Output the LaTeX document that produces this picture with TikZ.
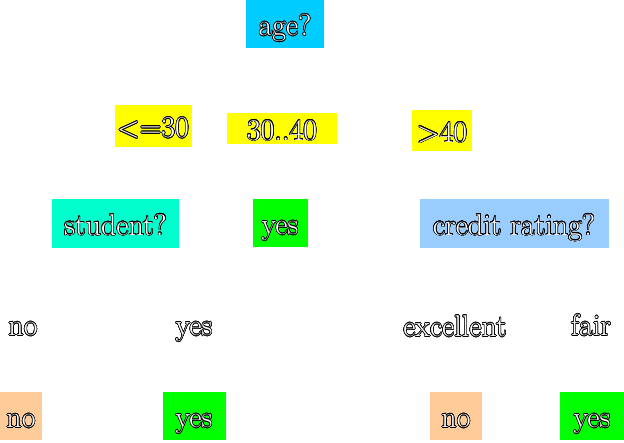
\documentclass[tikz,border=0pt]{standalone}
\usepackage{xcolor}
\usepackage{contour}
\contourlength{0.55pt}
\contournumber{24}

\definecolor{ageblue}{HTML}{00CCFF}
\definecolor{rangeyellow}{HTML}{FFFF00}
\definecolor{studentaqua}{HTML}{00FFCC}
\definecolor{leafgreen}{HTML}{00FF00}
\definecolor{creditblue}{HTML}{99CCFF}
\definecolor{leafpeach}{HTML}{FFCC99}

\newcommand{\olt}[1]{\contour{black}{#1}}

\tikzset{
  txt/.style={text=white, inner sep=0pt, text height=23pt, text depth=0pt,
    font=\fontsize{30}{34}\selectfont},
  box/.style={txt, minimum width=#1},
  box/.default=60,
}

\begin{document}
\begin{tikzpicture}[x=1pt, y=-1pt]
  \useasboundingbox (0,0) rectangle (624,442);

  \node[box=78, minimum height=48, fill=ageblue] (age) at (285,24) {\olt{age?}};

  \node[box=77, minimum height=42, fill=rangeyellow] (le30) at (153,126) {\olt{<=30}};
  \node[box=110, minimum height=31, fill=rangeyellow] (mid) at (282,128.5) {\olt{30..40}};
  \node[box=60, minimum height=41, fill=rangeyellow] (gt40) at (442,130.5) {\olt{>40}};

  \node[box=127, minimum height=49, fill=studentaqua] (student) at (115.5,223.5) {\olt{student?}};
  \node[box=55, minimum height=48, fill=leafgreen] (yesA) at (280,223) {\olt{yes}};
  \node[box=189, minimum height=49, fill=creditblue] (credit) at (514,223.5) {\olt{credit rating?}};

  \node[txt] (noLbl) at (23,324) {\olt{no}};
  \node[txt] (yesLbl) at (194,324) {\olt{yes}};
  \node[txt] (excLbl) at (455,325) {\olt{excellent}};
  \node[txt] (fairLbl) at (591,324) {\olt{fair}};

  \node[box=42, minimum height=48, fill=leafpeach] (leafNo) at (21,416) {\olt{no}};
  \node[box=63, minimum height=48, fill=leafgreen] (leafYes) at (194,416) {\olt{yes}};
  \node[box=52, minimum height=48, fill=leafpeach] (leafNoB) at (456,416) {\olt{no}};
  \node[box=64, minimum height=48, fill=leafgreen] (leafYesB) at (592,416) {\olt{yes}};
\end{tikzpicture}
\end{document}
